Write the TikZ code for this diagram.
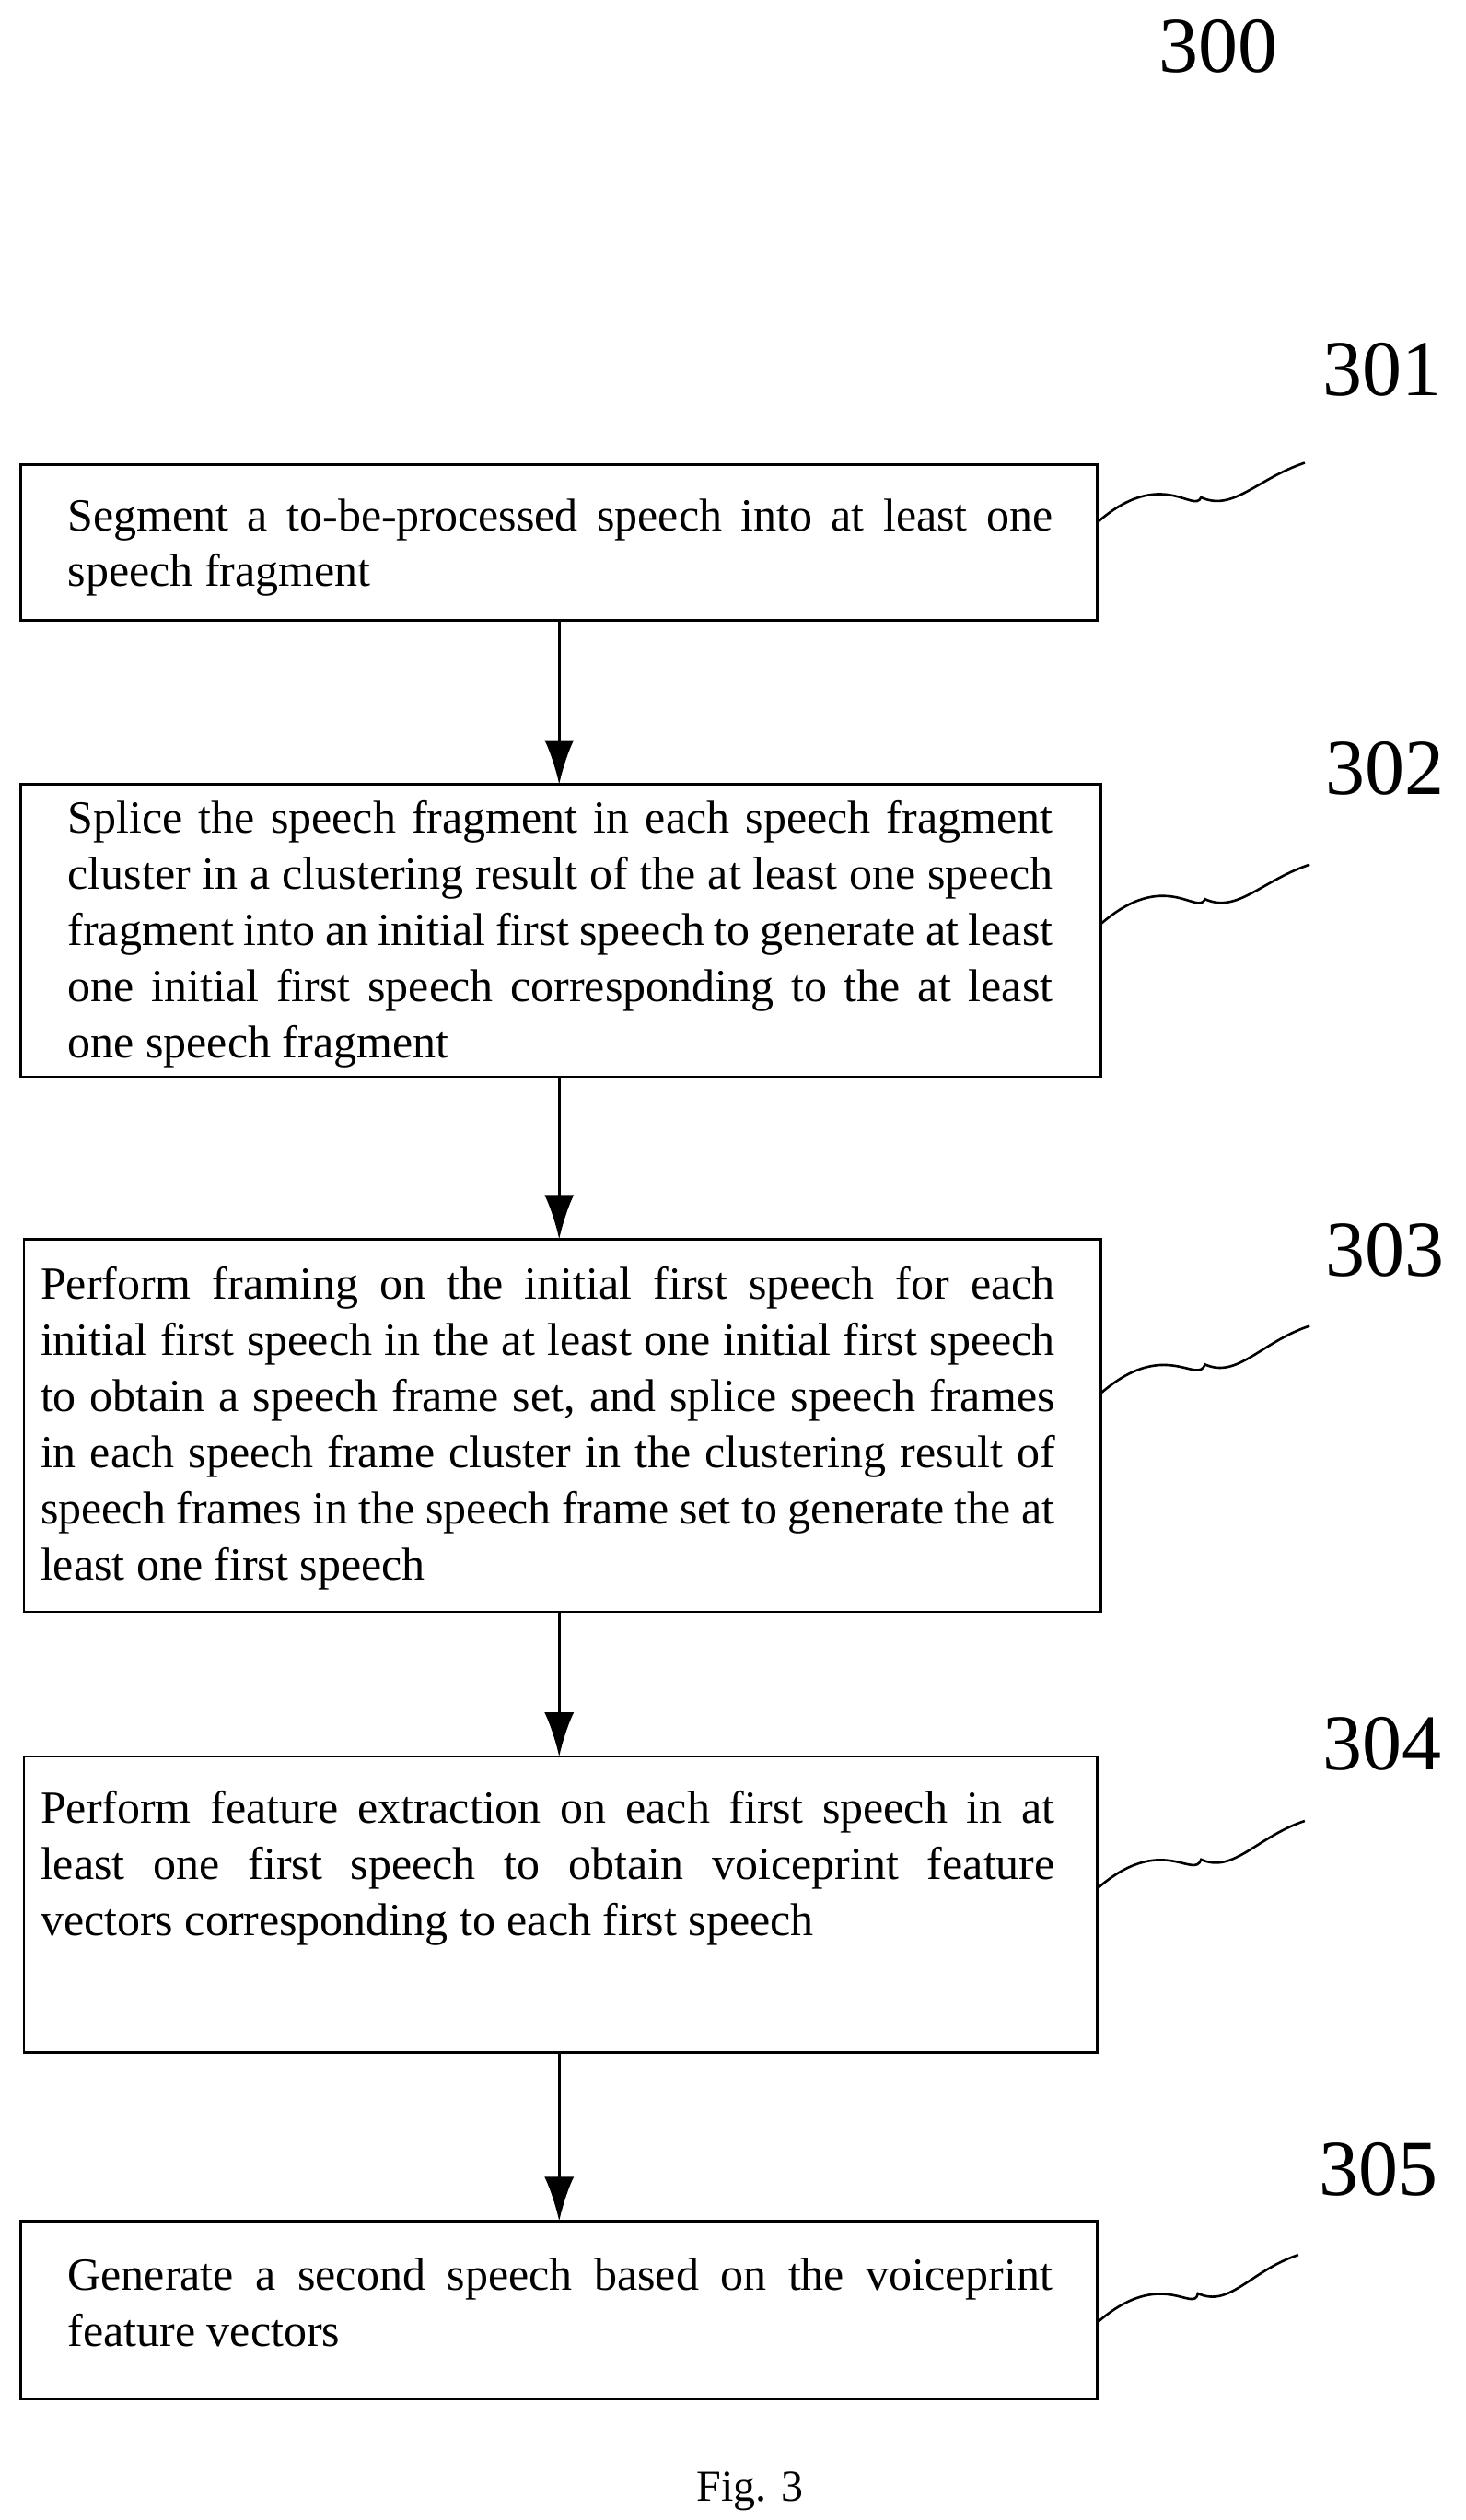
\documentclass[tikz,border=0pt]{standalone}
\usepackage{fontspec}
\setmainfont{Liberation Serif}
\usetikzlibrary{arrows.meta}
\begin{document}
\begin{tikzpicture}[x=0.8728pt,y=-0.8728pt,
  box/.style={draw,line width=1.3pt},
  txt/.style={anchor=north west,inner sep=0pt,align=justify,font=\fontsize{25}{30.5}\selectfont},
  lbl/.style={font=\fontsize{43}{43}\selectfont},
  arr/.style={line width=1.3pt,-{Latex[length=24pt,width=16pt]}},
  wav/.style={line width=1.3pt}]
\useasboundingbox (0,0) rectangle (912,1568);
\node[lbl] (t300) at (758,30) {\underline{300}};
% boxes
\draw[box] (13,289) rectangle (683,386);
\draw[box] (13,488) rectangle (685,670);
\draw[box] (15,771) rectangle (685,1003);
\draw[box] (15,1093) rectangle (683,1277);
\draw[box] (13,1382) rectangle (683,1493);
\coordinate (b1s) at (348,386); \coordinate (b2n) at (348,488);
\coordinate (b2s) at (348,670); \coordinate (b3n) at (348,771);
\coordinate (b3s) at (348,1003); \coordinate (b4n) at (348,1093);
\coordinate (b4s) at (348,1277); \coordinate (b5n) at (348,1382);
\draw[arr] (b1s) -- (b2n);
\draw[arr] (b2s) -- (b3n);
\draw[arr] (b3s) -- (b4n);
\draw[arr] (b4s) -- (b5n);
% texts
\node[txt,text width=535pt] (x1) at (42,310) {Segment a to-be-processed speech into at least one\linebreak speech fragment};
\node[txt,text width=535pt] (x2) at (42,498) {Splice the speech fragment in each speech fragment\linebreak cluster in a clustering result of the at least one speech\linebreak fragment into an initial first speech to generate at least\linebreak one initial first speech corresponding to the at least\linebreak one speech fragment};
\node[txt,text width=551pt] (x3) at (25,788) {Perform framing on the initial first speech for each\linebreak initial first speech in the at least one initial first speech\linebreak to obtain a speech frame set, and splice speech frames\linebreak in each speech frame cluster in the clustering result of\linebreak speech frames in the speech frame set to generate the at\linebreak least one first speech};
\node[txt,text width=551pt] (x4) at (25,1114) {Perform feature extraction on each first speech in at\linebreak least one first speech to obtain voiceprint feature\linebreak vectors corresponding to each first speech};
\node[txt,text width=535pt] (x5) at (42,1405) {Generate a second speech based on the voiceprint\linebreak feature vectors};
% labels and waves
\node[lbl] (l1) at (860,230) {301};
\node[lbl] (l2) at (862,478) {302};
\node[lbl] (l3) at (862,778) {303};
\node[lbl] (l4) at (860,1085) {304};
\node[lbl] (l5) at (858,1350) {305};
\foreach \a/\b/\c/\d in {683/325/812/288, 685/575/815/538, 685/867/815/825, 683/1175/812/1133, 683/1445/808/1403}{
  \draw[wav] (\a,\b) .. controls (\a+40,\b-35) and (\a+60,\b-5) .. ({(\a+\c)/2},{(\b+\d)/2+3}) .. controls ({(\a+\c)/2+20},{(\b+\d)/2+12}) and (\c-30,\d+10) .. (\c,\d);
}
\node[font=\fontsize{24}{24}\selectfont] (fig) at (467,1550) {Fig. 3};
\end{tikzpicture}
\end{document}
